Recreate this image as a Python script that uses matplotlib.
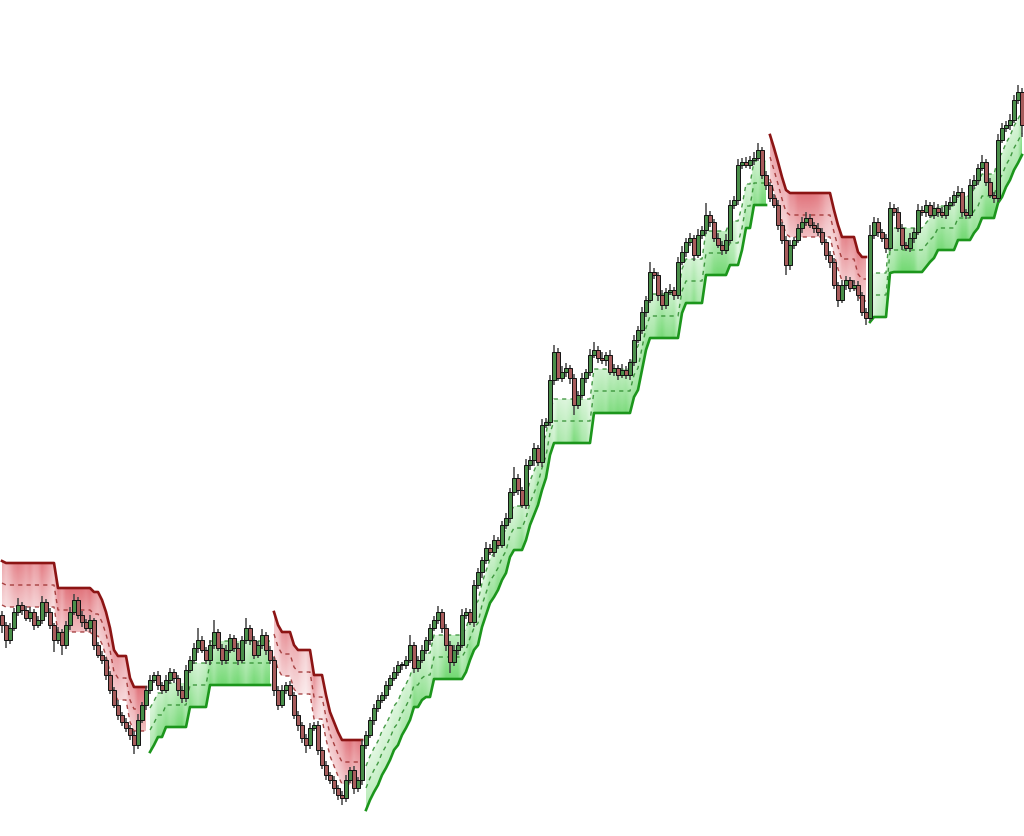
import numpy as np
import matplotlib
matplotlib.use("Agg")
import matplotlib.pyplot as plt
from matplotlib.colors import to_rgb

# closing price of each bar
close = np.array([
    375, 360, 372, 388, 395, 390, 382, 388, 375, 380, 398, 388, 375, 360, 368, 355,
    375, 388, 400, 385, 378, 372, 380, 355, 345, 340, 325, 310, 295, 285, 278, 272,
    265, 255, 280, 295, 310, 320, 325, 315, 310, 320, 328, 322, 310, 302, 330, 340,
    352, 360, 350, 340, 355, 368, 352, 340, 350, 362, 352, 340, 360, 372, 360, 345,
    355, 365, 350, 340, 310, 295, 310, 315, 305, 285, 275, 262, 255, 272, 275, 250,
    235, 225, 220, 212, 205, 202, 220, 230, 212, 220, 255, 265, 280, 292, 300, 305,
    315, 322, 328, 335, 335, 340, 355, 332, 340, 350, 360, 372, 380, 388, 372, 355,
    338, 350, 355, 385, 388, 378, 415, 428, 440, 452, 448, 460, 455, 475, 482, 508,
    522, 510, 495, 535, 540, 552, 538, 575, 578, 620, 648, 622, 628, 632, 622, 595,
    605, 622, 628, 645, 650, 642, 640, 645, 628, 632, 625, 630, 625, 638, 660, 670,
    688, 700, 728, 725, 705, 695, 708, 710, 705, 738, 748, 758, 762, 745, 765, 770,
    785, 778, 762, 755, 750, 760, 795, 800, 835, 838, 835, 840, 842, 850, 825, 815,
    802, 795, 775, 760, 735, 755, 760, 772, 778, 782, 775, 772, 768, 758, 745, 738,
    715, 700, 715, 720, 712, 715, 705, 688, 682, 765, 778, 768, 762, 752, 792, 788,
    772, 755, 752, 762, 768, 790, 788, 795, 785, 792, 788, 785, 795, 798, 805, 808,
    788, 785, 815, 820, 832, 838, 818, 805, 802, 860, 872, 875, 880, 900, 908, 875,
])
first_open = 385

# wick length above / below the body
wick_up = np.array([
    4, 3, 5, 4, 7, 3, 4, 5, 3, 4, 6, 3, 4, 2, 5, 3,
    4, 5, 6, 3, 4, 3, 5, 2, 3, 4, 3, 4, 3, 5, 3, 4,
    3, 4, 6, 3, 4, 5, 3, 4, 3, 5, 4, 3, 3, 4, 5, 4,
    5, 12, 4, 3, 5, 12, 3, 4, 5, 4, 3, 5, 4, 10, 3, 4,
    4, 6, 3, 4, 3, 4, 5, 3, 4, 3, 4, 3, 4, 5, 3, 4,
    3, 4, 3, 4, 3, 4, 5, 3, 4, 3, 5, 4, 3, 4, 5, 3,
    4, 3, 5, 4, 3, 4, 10, 3, 4, 5, 3, 4, 4, 6, 3, 4,
    4, 5, 3, 6, 4, 3, 5, 4, 3, 6, 4, 5, 3, 4, 5, 4,
    11, 4, 3, 6, 4, 5, 3, 6, 4, 5, 7, 4, 6, 5, 3, 4,
    4, 5, 3, 6, 8, 4, 6, 3, 5, 4, 3, 6, 4, 3, 5, 4,
    5, 4, 10, 4, 3, 5, 4, 6, 3, 5, 6, 4, 5, 3, 6, 4,
    12, 4, 3, 5, 4, 6, 5, 4, 6, 4, 5, 4, 6, 7, 3, 4,
    3, 4, 5, 3, 4, 5, 3, 4, 5, 6, 4, 3, 5, 4, 3, 4,
    4, 3, 5, 4, 3, 5, 4, 3, 4, 10, 5, 4, 3, 4, 6, 4,
    5, 4, 3, 5, 4, 6, 4, 5, 3, 6, 4, 5, 4, 5, 4, 6,
    4, 3, 6, 5, 4, 7, 3, 4, 3, 6, 5, 4, 6, 5, 7, 4,
])
wick_dn = np.array([
    8, 8, 4, 3, 4, 5, 3, 4, 5, 3, 4, 5, 4, 12, 4, 10,
    4, 5, 3, 4, 5, 3, 4, 5, 3, 4, 5, 4, 3, 5, 4, 4,
    5, 9, 4, 3, 5, 4, 3, 5, 4, 3, 4, 5, 6, 5, 4, 3,
    4, 5, 3, 4, 5, 4, 3, 5, 4, 3, 4, 5, 3, 4, 5, 4,
    3, 4, 5, 4, 6, 5, 3, 4, 5, 4, 6, 5, 8, 4, 3, 5,
    4, 5, 4, 6, 5, 7, 4, 3, 6, 4, 5, 4, 3, 5, 4, 3,
    4, 5, 3, 4, 5, 4, 3, 5, 4, 3, 4, 5, 3, 4, 5, 6,
    11, 4, 5, 3, 4, 3, 5, 4, 6, 4, 3, 5, 4, 3, 4, 5,
    4, 5, 3, 4, 5, 6, 4, 5, 3, 4, 5, 3, 4, 5, 6, 10,
    4, 3, 5, 4, 3, 5, 4, 6, 3, 4, 5, 3, 4, 5, 4, 3,
    4, 5, 3, 4, 6, 5, 4, 3, 5, 4, 3, 5, 4, 6, 3, 4,
    4, 5, 4, 3, 5, 4, 3, 4, 5, 4, 3, 4, 5, 3, 4, 5,
    4, 3, 5, 4, 10, 5, 4, 3, 5, 4, 3, 5, 4, 3, 5, 6,
    4, 7, 3, 5, 4, 3, 6, 4, 7, 3, 4, 5, 4, 5, 3, 4,
    4, 5, 3, 4, 5, 3, 4, 5, 3, 4, 5, 3, 4, 5, 4, 3,
    5, 4, 3, 4, 5, 3, 4, 3, 5, 4, 3, 4, 5, 3, 4, 12,
])

# trend legs of the trailing stop (-1 = short / red, 1 = long / green)
leg_dir = [-1, 1, -1, 1, -1, 1]
leg_len = [37, 31, 23, 101, 25, 39]

# stepped stop level and how many bars each step lasts
stop_level = [
    439, 437, 412, 408, 400, 388, 372, 350, 344, 322, 313,
    248, 255, 263, 273, 293, 315,
    388, 375, 368, 355, 350, 325, 305, 288, 278, 268, 260,
    190, 200, 208, 215, 225, 232, 240, 250, 255, 265, 272, 280, 293, 300, 303, 321,
    328, 340, 350, 355, 373, 385, 397, 403, 410, 420, 427, 443, 450, 460, 475, 485,
    495, 510, 522, 545, 557, 587, 603, 610, 630, 650, 662, 687, 697, 725, 735, 750,
    772, 795,
    865, 852, 838, 823, 810, 807, 790, 775, 763, 748, 743,
    678, 683, 727, 728, 733, 738, 742, 750, 760, 767, 772, 782, 797, 803, 813, 820,
    830, 837, 845,
]
stop_run = [
    1, 13, 9, 2, 1, 1, 1, 1, 3, 1, 4,
    1, 1, 2, 6, 5, 16,
    1, 1, 3, 1, 4, 3, 1, 1, 1, 1, 6,
    1, 1, 1, 1, 1, 1, 1, 1, 1, 1, 1, 1, 2, 1, 2, 8,
    1, 1, 1, 1, 1, 1, 1, 1, 1, 1, 1, 1, 3, 1, 1, 1,
    1, 1, 1, 1, 10, 10, 1, 1, 1, 1, 8, 1, 5, 6, 3, 1,
    2, 4,
    1, 1, 1, 1, 1, 11, 1, 1, 4, 1, 2,
    1, 4, 1, 8, 1, 1, 1, 5, 4, 1, 1, 4, 1, 1, 1, 1,
    1, 1, 1,
]
band = 22  # spacing of the dashed offset lines

stop = np.repeat(stop_level, stop_run).astype(float)
n = len(close)
idx = np.arange(n)
opn = np.concatenate([[first_open], close[:-1]])
high = np.maximum(opn, close) + wick_up
low = np.minimum(opn, close) - wick_dn

fig = plt.figure(figsize=(10.24, 8.36), dpi=100)
ax = fig.add_axes([0, 0, 1, 1])
ax.set_axis_off()

styles = {
    1: dict(fill=to_rgb("#2fc62f"), line="#1c961c", dash="#2a8a2a"),
    -1: dict(fill=to_rgb("#d3303c"), line="#8c1414", dash="#9a2a2a"),
}

start = 0
for d, ln in zip(leg_dir, leg_len):
    sl = slice(start, start + ln)
    x = idx[sl]
    s = stop[sl]
    st = styles[d]
    far = s + d * 2 * band

    # darker columns where price hugs the stop
    dist = d * (close[sl] - s) / band
    col_a = 0.18 + 0.5 * np.clip((4.5 - dist) / 3.0, 0, 1)

    lo = min(s.min(), far.min()) - 2
    hi = max(s.max(), far.max()) + 2
    yy = np.linspace(lo, hi, 400)[:, None]
    t = np.clip(d * (far[None, :] - yy) / (2 * band), 0, 1)
    img = np.zeros((400, ln, 4))
    img[..., :3] = st["fill"]
    img[..., 3] = col_a[None, :] * (0.45 + 0.55 * t)

    poly = ax.fill_between(x, s, far, facecolor="none", edgecolor="none")
    im = ax.imshow(img, origin="lower", aspect="auto", interpolation="bilinear",
                   extent=(x[0] - 0.5, x[-1] + 0.5, lo, hi), zorder=1)
    im.set_clip_path(poly.get_paths()[0], transform=ax.transData)

    ax.plot(x, s + d * band, color=st["dash"], lw=1.0, ls=(0, (3, 3)), alpha=0.85, zorder=2)
    ax.plot(x, far, color=st["dash"], lw=1.0, ls=(0, (3, 3)), alpha=0.85, zorder=2)
    ax.plot(x, s, color=st["line"], lw=1.9, zorder=3)
    start += ln

# candles
up = close >= opn
ax.vlines(idx, low, high, color="#444444", lw=1.1, zorder=4)
body = np.maximum(np.abs(close - opn), 1.5)
ax.bar(idx[up], body[up], bottom=np.minimum(opn, close)[up], width=0.8,
       color="#4a8f4a", edgecolor="#111111", linewidth=0.7, zorder=5)
ax.bar(idx[~up], body[~up], bottom=np.minimum(opn, close)[~up], width=0.8,
       color="#a85c5c", edgecolor="#111111", linewidth=0.7, zorder=5)

ax.set_xlim(-0.5, n - 0.5)
ax.set_ylim(164, 1000)

fig.savefig("out.png", dpi=100, facecolor="white")
